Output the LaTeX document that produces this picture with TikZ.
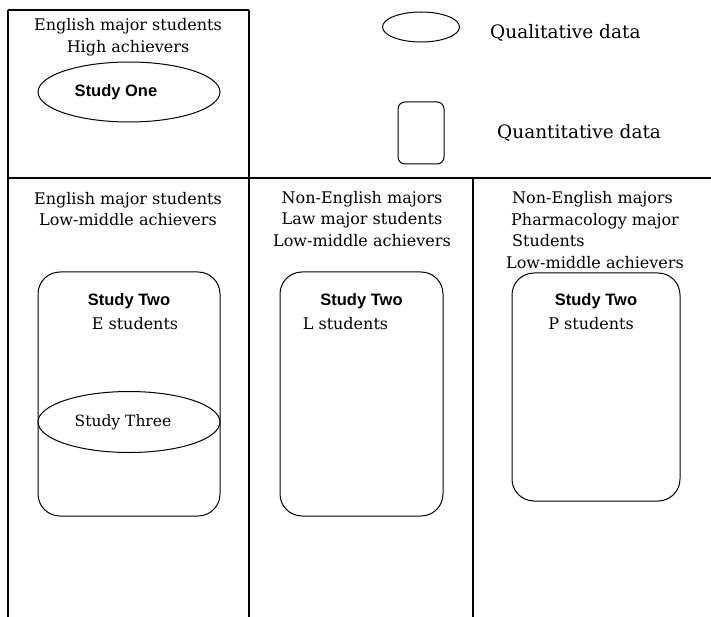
\documentclass[tikz,border=0pt]{standalone}
\usepackage{fontspec}
\setmainfont{DejaVu Serif}
\setsansfont{Liberation Sans}
\usetikzlibrary{positioning,shapes.geometric}
\tikzset{
  grp/.style   ={align=center, inner sep=0pt, font=\fontsize{16}{21.5}\selectfont},
  grpl/.style  ={grp, align=left},
  key/.style   ={inner sep=0pt, anchor=west, font=\fontsize{18.5}{22}\selectfont},
  qual/.style  ={ellipse, draw=black, line width=1pt, inner sep=0pt},
  quant/.style ={rectangle, rounded corners=22pt, draw=black, line width=1pt, inner sep=0pt},
  stud/.style  ={inner sep=0pt, font=\fontsize{16.5}{18}\sffamily\bfseries},
  frame/.style ={draw=black, line width=1.1pt},
}
\begin{document}
\begin{tikzpicture}[x=1pt, y=-1pt]
  \useasboundingbox (0,0) rectangle (711,617);

  % frame of the table
  \draw[frame] (8,10) -- (249,10);
  \draw[frame] (8,10) -- (8,617);
  \draw[frame] (249,10) -- (249,617);
  \draw[frame] (8,178) -- (711,178);
  \draw[frame] (473,178) -- (473,617);

  % study one
  \node[grp] (hiGrp) at (128,37) {English major students\\High achievers};
  \node[qual, minimum width=182pt, minimum height=60pt, font=\fontsize{16.5}{18}\sffamily\bfseries]
       (one) at (129,92) {Study One\rule{26pt}{0pt}};

  % key
  \node[qual, minimum width=77pt, minimum height=30pt] (keyQual) at (421,27) {};
  \node[key] (keyQualTxt) at (490,33) {Qualitative data};
  \node[quant, rounded corners=7pt, minimum width=46pt, minimum height=62pt] (keyQuant) at (421,133) {};
  \node[key] (keyQuantTxt) at (497,133) {Quantitative data};

  % English majors
  \node[grp] (eGrp) at (128,209) {English major students\\Low-middle achievers};
  \node[quant, minimum width=182pt, minimum height=244pt] (eBox) at (129,394) {};
  \node[stud, below=22pt of eBox.north] (eTwo) {Study Two};
  \node[grp, below=8pt of eTwo, xshift=6pt] (eStu) {E students};
  \node[qual, minimum width=182pt, minimum height=61pt, font=\fontsize{15.5}{18}\selectfont]
       (three) at (129,422) {Study Three\rule{12pt}{0pt}};

  % law majors
  \node[grp] (lGrp) at (362,219) {Non-English majors\\Law major students\\Low-middle achievers};
  \node[quant, minimum width=163pt, minimum height=244pt] (lBox) at (361.5,394) {};
  \node[stud, below=22pt of lBox.north] (lTwo) {Study Two};
  \node[grp, below=8pt of lTwo, xshift=-16pt] (lStu) {L students};

  % pharmacology majors
  \node[grpl] (pGrp) at (595,230) {\hspace{6pt}Non-English majors\\\hspace{5pt}Pharmacology major\\\hspace{6pt}Students\\Low-middle achievers};
  \node[quant, minimum width=168pt, minimum height=228pt] (pBox) at (596,387) {};
  \node[stud, below=21pt of pBox.north] (pTwo) {Study Two};
  \node[grp, below=8pt of pTwo, xshift=-5pt] (pStu) {P students};
\end{tikzpicture}
\end{document}
